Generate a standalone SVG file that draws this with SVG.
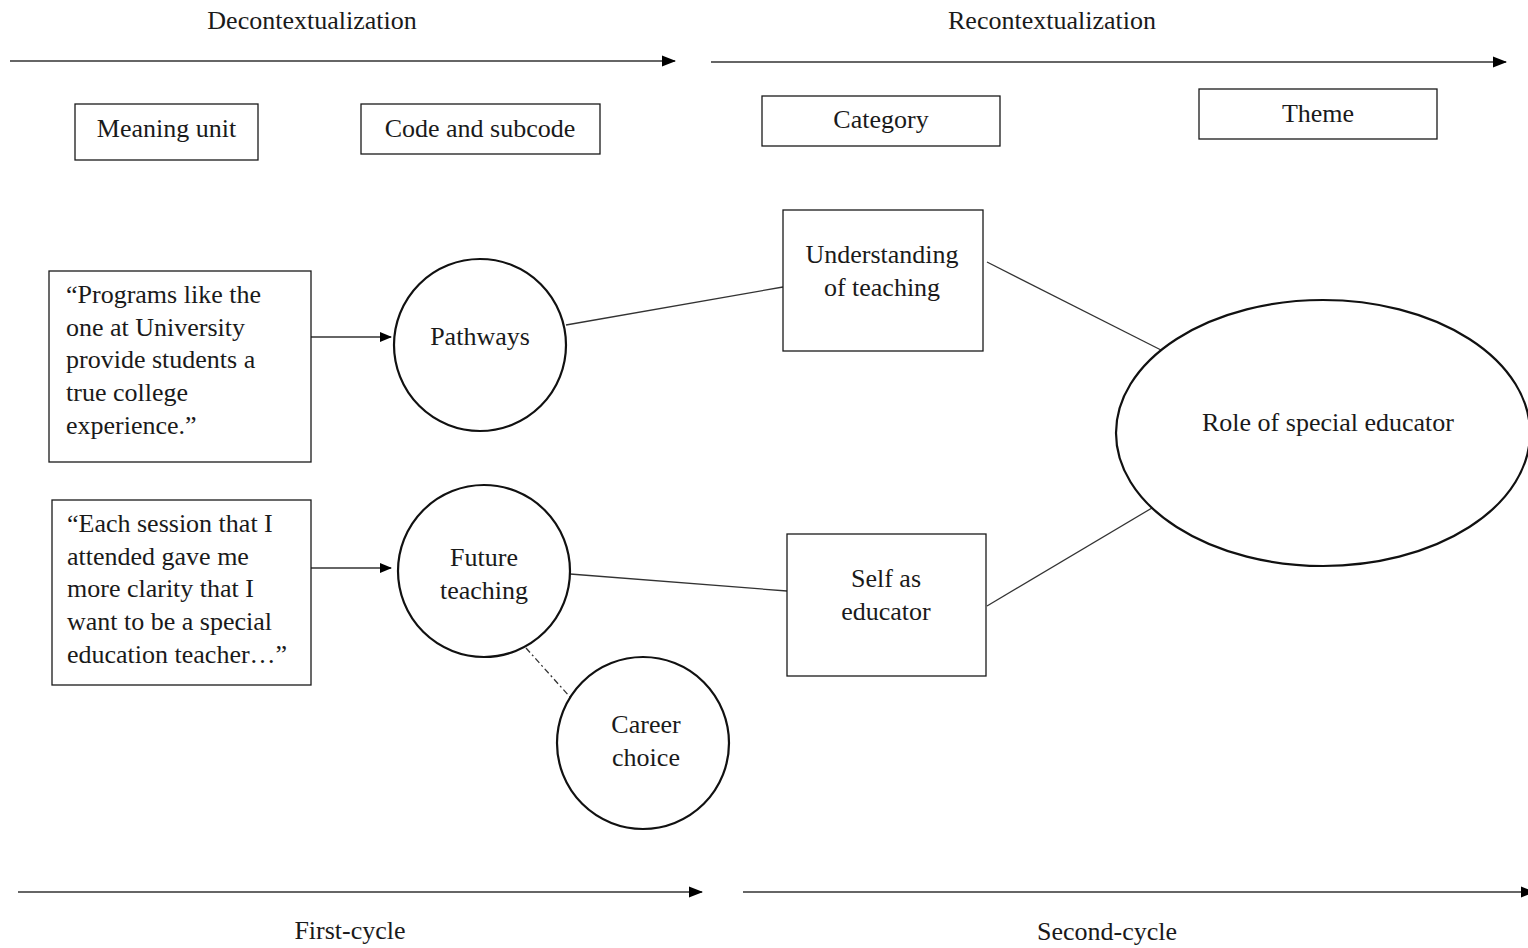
<svg xmlns="http://www.w3.org/2000/svg" width="1528" height="948" viewBox="0 0 1528 948">
<style>
text{font-family:"Liberation Serif","Times New Roman",serif;font-size:26px;fill:#1a1a1a}
.c{text-anchor:middle}
.b{fill:#fff;stroke:#1a1a1a;stroke-width:1.3}
.n{fill:#fff;stroke:#111;stroke-width:2.2}
.l{stroke:#333;stroke-width:1.3;fill:none}
.a{stroke:#333;stroke-width:1.5;fill:none}
</style>
<defs>
<marker id="ah" markerWidth="12" markerHeight="12" refX="11" refY="6" orient="auto" markerUnits="userSpaceOnUse">
<path d="M0,1 L12,6 L0,11 Z" fill="#000"/>
</marker>
<marker id="ah2" markerWidth="14" markerHeight="12" refX="13" refY="6" orient="auto" markerUnits="userSpaceOnUse">
<path d="M0,0.5 L14,6 L0,11.5 Z" fill="#000"/>
</marker>
</defs>
<g id="headers">
<text class="c" x="312" y="29">Decontextualization</text>
<text class="c" x="1052" y="29">Recontextualization</text>
<text class="c" x="350" y="939">First-cycle</text>
<text class="c" x="1107" y="940">Second-cycle</text>
</g>
<g id="connectors">
<line class="a" x1="10" y1="61" x2="675" y2="61" marker-end="url(#ah2)"/>
<line class="a" x1="711" y1="62" x2="1506" y2="62" marker-end="url(#ah2)"/>
<line class="a" x1="18" y1="892" x2="702" y2="892" marker-end="url(#ah2)"/>
<line class="a" x1="743" y1="892" x2="1534" y2="892" marker-end="url(#ah2)"/>
<line class="a" x1="311" y1="337" x2="391" y2="337" marker-end="url(#ah)"/>
<line class="a" x1="311" y1="568" x2="391" y2="568" marker-end="url(#ah)"/>
<line class="l" x1="566" y1="325" x2="783" y2="287"/>
<line class="l" x1="987" y1="262" x2="1161" y2="350"/>
<line class="l" x1="570" y1="574" x2="787" y2="591"/>
<line class="l" x1="987" y1="606" x2="1152" y2="508"/>
<line class="l" x1="526" y1="648" x2="570" y2="697" stroke-dasharray="6,3,2,3"/>
</g>
<g id="meaning-unit"><rect class="b" x="75" y="104" width="183" height="56"/><text class="c" x="166.5" y="137">Meaning unit</text></g>
<g id="code-subcode"><rect class="b" x="361" y="104" width="239" height="50"/><text class="c" x="480" y="137">Code and subcode</text></g>
<g id="category"><rect class="b" x="762" y="96" width="238" height="50"/><text class="c" x="881" y="128">Category</text></g>
<g id="theme"><rect class="b" x="1199" y="89" width="238" height="50"/><text class="c" x="1318" y="122">Theme</text></g>
<g id="quote1"><rect class="b" x="49" y="271" width="262" height="191"/>
<text x="66" y="303">“Programs like the</text>
<text x="66" y="336">one at University</text>
<text x="66" y="368">provide students a</text>
<text x="66" y="401">true college</text>
<text x="66" y="434">experience.”</text></g>
<g id="quote2"><rect class="b" x="52" y="500" width="259" height="185"/>
<text x="67" y="532">“Each session that I</text>
<text x="67" y="565">attended gave me</text>
<text x="67" y="597">more clarity that I</text>
<text x="67" y="630">want to be a special</text>
<text x="67" y="663">education teacher…”</text></g>
<g id="pathways"><circle class="n" cx="480" cy="345" r="86"/><text class="c" x="480" y="345">Pathways</text></g>
<g id="future-teaching"><circle class="n" cx="484" cy="571" r="86"/><text class="c" x="484" y="566">Future</text><text class="c" x="484" y="599">teaching</text></g>
<g id="career-choice"><circle class="n" cx="643" cy="743" r="86"/><text class="c" x="646" y="733">Career</text><text class="c" x="646" y="766">choice</text></g>
<g id="understanding"><rect class="b" x="783" y="210" width="200" height="141"/><text class="c" x="882" y="263">Understanding</text><text class="c" x="882" y="296">of teaching</text></g>
<g id="self-educator"><rect class="b" x="787" y="534" width="199" height="142"/><text class="c" x="886" y="587">Self as</text><text class="c" x="886" y="620">educator</text></g>
<g id="role"><ellipse class="n" cx="1323" cy="433" rx="207" ry="133"/><text class="c" x="1328" y="431">Role of special educator</text></g>
</svg>
